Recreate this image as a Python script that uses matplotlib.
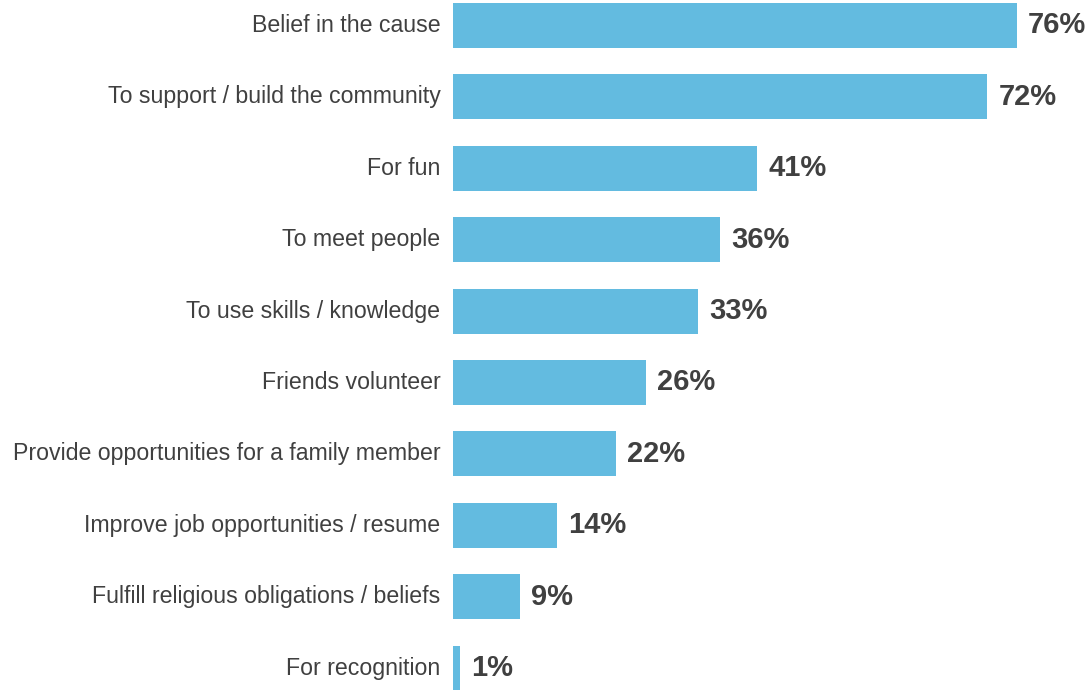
import matplotlib
matplotlib.use("Agg")
import matplotlib.pyplot as plt
from matplotlib.transforms import ScaledTranslation

categories = [
    "Belief in the cause",
    "To support / build the community",
    "For fun",
    "To meet people",
    "To use skills / knowledge",
    "Friends volunteer",
    "Provide opportunities for a family member",
    "Improve job opportunities / resume",
    "Fulfill religious obligations / beliefs",
    "For recognition",
]
values = [76, 72, 41, 36, 33, 26, 22, 14, 9, 1]

BAR_COLOR = "#63BBE0"
TEXT_COLOR = "#404040"

plt.rcParams["font.family"] = ["Liberation Sans", "DejaVu Sans"]

W, H = 1091, 690
fig = plt.figure(figsize=(W / 100, H / 100), dpi=100)
ax = fig.add_axes([453 / W, 0, 1 - 453 / W, 1])

pos = list(range(len(categories)))
ax.barh(pos, values, height=0.63, color=BAR_COLOR, align="center")

ax.set_xlim(0, 638 / 7.42)
ax.set_ylim(9.307, -0.357)

for y, v in zip(pos, values):
    ax.annotate(f"{v}%", xy=(v, y), xytext=(8, 0), textcoords="offset points",
                va="center", ha="left", fontsize=21, fontweight="bold",
                color=TEXT_COLOR, annotation_clip=False)

ax.set_yticks(pos)
ax.set_yticklabels(categories, fontsize=16.7, color=TEXT_COLOR)
ax.tick_params(axis="y", length=0, pad=9)
shift = ScaledTranslation(0, 2.5 / 100, fig.dpi_scale_trans)
for lbl in ax.get_yticklabels():
    lbl.set_transform(lbl.get_transform() + shift)
ax.set_xticks([])
for s in ax.spines.values():
    s.set_visible(False)

fig.savefig("out.png", dpi=100)
